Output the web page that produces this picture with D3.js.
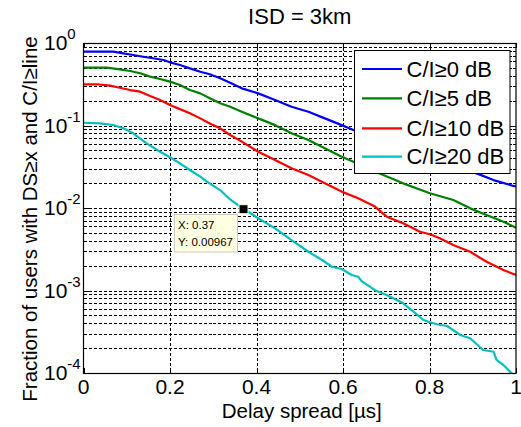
<!DOCTYPE html>
<html><head><meta charset="utf-8">
<script src="https://cdn.jsdelivr.net/npm/d3@7/dist/d3.min.js"></script>
<style>
html,body{margin:0;padding:0;background:#fff;}
text{font-family:"Liberation Sans",Arial,sans-serif;}
</style></head>
<body><svg id="c" width="521" height="427"></svg>
<script>
// ---- data ----
const title = "ISD = 3km";
const xLabel = "Delay spread [\u00b5s]";
const yLabel = "Fraction of users with DS\u2265x and C/I\u2265line";
const seriesNames = ["C/I\u22650 dB", "C/I\u22655 dB", "C/I\u226510 dB", "C/I\u226520 dB"];
const seriesColors = ["#0000ff", "#008000", "#ff0000", "#00bfbf"];
const xTicks = [0, 0.2, 0.4, 0.6, 0.8, 1];
const yTickExps = [0, -1, -2, -3, -4];

const ci0X = [0, 0.069, 0.092, 0.115, 0.138, 0.161, 0.185, 0.2, 0.223, 0.246, 0.27, 0.292, 0.316, 0.339, 0.366, 0.404, 0.443, 0.481, 0.52, 0.558, 0.597, 0.624, 0.7, 0.8, 0.909, 0.948, 0.994, 1.0];
const ci0Y = [0.785, 0.785, 0.75, 0.716, 0.682, 0.653, 0.622, 0.583, 0.541, 0.493, 0.449, 0.418, 0.373, 0.33, 0.282, 0.245, 0.204, 0.169, 0.147, 0.122, 0.101, 0.0881, 0.064, 0.042, 0.0263, 0.0218, 0.0185, 0.0183];

const ci5X = [0, 0.054, 0.084, 0.108, 0.131, 0.154, 0.177, 0.2, 0.223, 0.246, 0.27, 0.292, 0.316, 0.339, 0.366, 0.404, 0.443, 0.481, 0.52, 0.558, 0.597, 0.624, 0.693, 0.739, 0.801, 0.855, 0.894, 0.932, 0.971, 1.0];
const ci5Y = [0.502, 0.502, 0.48, 0.458, 0.43, 0.391, 0.366, 0.34, 0.31, 0.269, 0.245, 0.214, 0.186, 0.169, 0.147, 0.122, 0.101, 0.0804, 0.0667, 0.053, 0.0419, 0.0364, 0.0251, 0.0199, 0.0151, 0.0125, 0.0099, 0.00822, 0.00682, 0.00577];

const ci10X = [0, 0.031, 0.061, 0.084, 0.108, 0.131, 0.154, 0.177, 0.2, 0.223, 0.246, 0.27, 0.292, 0.316, 0.339, 0.366, 0.404, 0.443, 0.481, 0.52, 0.558, 0.597, 0.635, 0.674, 0.701, 0.739, 0.778, 0.801, 0.824, 0.855, 0.894, 0.932, 0.971, 1.0];
const ci10Y = [0.316, 0.316, 0.304, 0.287, 0.269, 0.257, 0.228, 0.204, 0.177, 0.158, 0.141, 0.122, 0.106, 0.0925, 0.0767, 0.0637, 0.0481, 0.0382, 0.0303, 0.0251, 0.0199, 0.0158, 0.0131, 0.0104, 0.00785, 0.00653, 0.00516, 0.0048, 0.0043, 0.00356, 0.00295, 0.00223, 0.00177, 0.00154];

const ci20X = [0, 0.038, 0.069, 0.092, 0.115, 0.146, 0.177, 0.2, 0.223, 0.246, 0.27, 0.285, 0.316, 0.339, 0.37, 0.381, 0.404, 0.443, 0.481, 0.52, 0.558, 0.574, 0.597, 0.62, 0.635, 0.643, 0.674, 0.701, 0.739, 0.763, 0.786, 0.801, 0.824, 0.84, 0.871, 0.894, 0.924, 0.948, 0.955, 0.971, 0.99, 1.0];
const ci20Y = [0.108, 0.106, 0.1014, 0.0925, 0.0804, 0.0608, 0.0481, 0.0412, 0.0348, 0.0289, 0.024, 0.0209, 0.0165, 0.0127, 0.00967, 0.00901, 0.0075, 0.00567, 0.00409, 0.00295, 0.00223, 0.00194, 0.00182, 0.00154, 0.00147, 0.0013, 0.00101, 0.00088, 0.0007, 0.000553, 0.000439, 0.000412, 0.000382, 0.000374, 0.000289, 0.000264, 0.00019, 0.000181, 0.000144, 0.000125, 0.0000991, 0.000085];

const seriesX = [ci0X, ci5X, ci10X, ci20X];
const seriesY = [ci0Y, ci5Y, ci10Y, ci20Y];

const tipX = 0.37, tipY = 0.00967;

// ---- layout ----
const L = 83.5, R = 516, T = 43, B = 373;
const svg = d3.select("#c");
const x = d3.scaleLinear().domain([0, 1]).range([L, R]);
const y = d3.scaleLog().domain([1e-4, 1]).range([B, T]);

svg.append("rect").attr("x", 0).attr("y", 0).attr("width", 521).attr("height", 427).attr("fill", "#fff");

// grid
const minorVals = [];
for (let e = -4; e < 0; e++) for (let m = 1; m <= 9; m++) minorVals.push(m * Math.pow(10, e));
minorVals.push(1);
const grid = svg.append("g").attr("stroke", "#000").attr("stroke-width", 1).attr("stroke-dasharray", "3,2").attr("shape-rendering", "crispEdges");
grid.selectAll("line.h").data(minorVals.filter(v => v > 1e-4 && v < 1)).join("line")
  .attr("x1", L).attr("x2", R).attr("y1", d => Math.round(y(d)) + 0.5).attr("y2", d => Math.round(y(d)) + 0.5);
grid.selectAll("line.v").data(xTicks.filter(v => v > 0 && v < 1)).join("line")
  .attr("class", "v")
  .attr("y1", T).attr("y2", B).attr("x1", d => Math.round(x(d)) + 0.5).attr("x2", d => Math.round(x(d)) + 0.5);

// ticks (inward)
const tk = svg.append("g").attr("stroke", "#000").attr("stroke-width", 1).attr("shape-rendering", "crispEdges");
minorVals.forEach(v => {
  const yy = Math.round(y(v)) + 0.5;
  const major = Math.abs(Math.log10(v) - Math.round(Math.log10(v))) < 1e-9;
  const len = major ? 5 : 3;
  tk.append("line").attr("x1", L).attr("x2", L + len).attr("y1", yy).attr("y2", yy);
  tk.append("line").attr("x1", R - len).attr("x2", R).attr("y1", yy).attr("y2", yy);
});
xTicks.forEach(v => {
  const xx = Math.round(x(v)) + 0.5;
  tk.append("line").attr("x1", xx).attr("x2", xx).attr("y1", B).attr("y2", B - 5);
  tk.append("line").attr("x1", xx).attr("x2", xx).attr("y1", T).attr("y2", T + 5);
});

// lines
svg.append("defs").append("clipPath").attr("id", "clip").append("rect")
  .attr("x", L).attr("y", T).attr("width", R - L).attr("height", B - T);
const lineGen = d3.line().x(d => x(d[0])).y(d => y(d[1]));
seriesX.forEach((xs, i) => {
  const pts = xs.map((v, j) => [v, seriesY[i][j]]);
  svg.append("path").datum(pts).attr("d", lineGen)
    .attr("fill", "none").attr("stroke", seriesColors[i]).attr("stroke-width", 2.2)
    .attr("stroke-linejoin", "round").attr("clip-path", "url(#clip)");
});

// box
svg.append("rect").attr("x", L).attr("y", T + 0.5).attr("width", R - L).attr("height", B - T)
  .attr("fill", "none").attr("stroke", "#000").attr("stroke-width", 1.2);

// tick labels
const fs = 21;
xTicks.forEach(v => {
  svg.append("text").attr("x", x(v)).attr("y", 394).attr("text-anchor", "middle")
    .attr("font-size", fs).text(String(v));
});
yTickExps.forEach(e => {
  const t = svg.append("text").attr("x", 44).attr("y", y(Math.pow(10, e)) + 7).attr("font-size", fs);
  t.append("tspan").text("10");
  t.append("tspan").attr("font-size", 15).attr("dy", -11).text(String(e));
});

// axis labels and title
svg.append("text").attr("x", (L + R) / 2 + 2).attr("y", 418).attr("text-anchor", "middle").attr("font-size", 20.5).text(xLabel);
svg.append("text").attr("transform", `translate(37,${219}) rotate(-90)`).attr("text-anchor", "middle").attr("font-size", 20.5).text(yLabel);
svg.append("text").attr("x", (L + R) / 2).attr("y", 24).attr("text-anchor", "middle").attr("font-size", 22).text(title);

// legend
const lg = svg.append("g");
lg.append("rect").attr("x", 354.5).attr("y", 50.5).attr("width", 155.5).attr("height", 123)
  .attr("fill", "#fff").attr("stroke", "#000").attr("stroke-width", 1);
const rows = [69, 98.3, 128.3, 156.7];
seriesNames.forEach((n, i) => {
  lg.append("line").attr("x1", 362).attr("x2", 402).attr("y1", rows[i]).attr("y2", rows[i])
    .attr("stroke", seriesColors[i]).attr("stroke-width", 2.2);
  lg.append("text").attr("x", 406.5).attr("y", rows[i] + 7.5).attr("font-size", 22).text(n);
});

// data tip
const tx = x(tipX), ty = y(tipY);
const tip = svg.append("g");
tip.append("rect").attr("x", 174.5).attr("y", 214.5).attr("width", 63).attr("height", 37.5)
  .attr("fill", "#ffffe1").attr("stroke", "#c8c8c8").attr("stroke-width", 1);
tip.append("text").attr("x", 178).attr("y", 229).attr("font-size", 11.5).attr("fill", "#000").text("X: " + tipX);
tip.append("text").attr("x", 178).attr("y", 246).attr("font-size", 11.5).attr("fill", "#000").text("Y: " + tipY);
tip.append("rect").attr("x", tx - 4.5).attr("y", ty - 4.5).attr("width", 9).attr("height", 9)
  .attr("fill", "#000").attr("stroke", "#ffffe1").attr("stroke-width", 1);
</script></body></html>
